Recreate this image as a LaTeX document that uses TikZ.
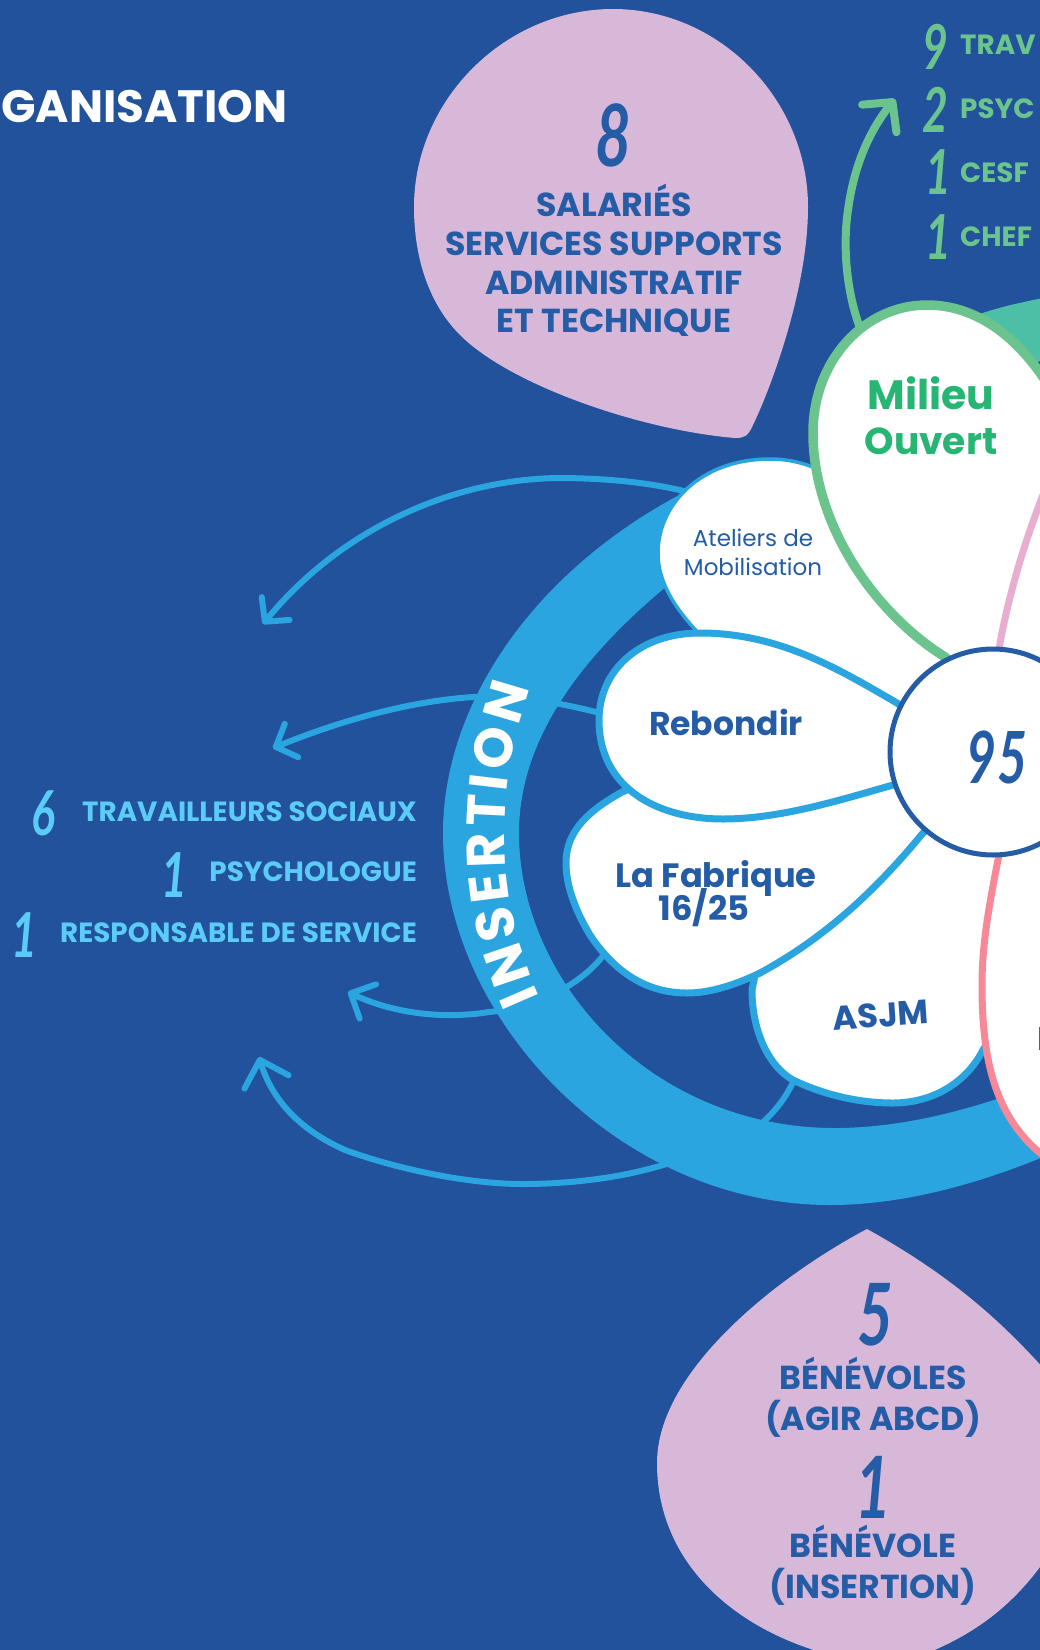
\documentclass[tikz,border=0pt]{standalone}
\usepackage{fontspec}
\usetikzlibrary{arrows.meta,decorations.text}
\newfontfamily\popfont{Poppins}
\newfontfamily\handfont{Lato}
\definecolor{bgblue}{HTML}{21529B}
\definecolor{ringblue}{HTML}{2AA5DF}
\definecolor{inkblue}{HTML}{255CA6}
\definecolor{mauve}{HTML}{D8B8D8}
\definecolor{skytext}{HTML}{5BCBF7}
\definecolor{leaf}{HTML}{6BC48E}
\definecolor{leaftext}{HTML}{27B573}
\definecolor{teal}{HTML}{4DBFA6}
\definecolor{rosepink}{HTML}{E9AECF}
\definecolor{coral}{HTML}{F78898}
\definecolor{darkred}{HTML}{B23A48}
\newcommand{\hdigit}[2][86]{{\handfont\bfseries\itshape\fontsize{#1}{#1}\selectfont\scalebox{0.72}[1]{#2}}}
\tikzset{
  lbl/.style={anchor=base,inner sep=0pt,font=\popfont\bfseries\fontsize{27.8}{30}\selectfont},
  bubbletext/.style={lbl,text=inkblue,font=\popfont\bfseries\fontsize{33.2}{34}\selectfont},
  petalname/.style={anchor=base,inner sep=0pt,text=inkblue,font=\popfont\bfseries\fontsize{33.7}{36}\selectfont},
  digit/.style={inner sep=0pt,anchor=center},
  conn/.style={draw=ringblue,line width=6pt,line cap=round},
  petal/.style={fill=white,draw=ringblue,line width=7pt,line join=round}
}
\begin{document}
\begin{tikzpicture}[x=1pt,y=-1pt]
\useasboundingbox (0,0) rectangle (1040,1650);
\clip (0,0) rectangle (1040,1650);
\fill[bgblue] (0,0) rectangle (1040,1650);

% free ends of the connectors
\coordinate (a1s) at (688,492); \coordinate (a1e) at (263,624);
\coordinate (a2s) at (600,713); \coordinate (a2e) at (273,748);
\coordinate (a3s) at (602,957); \coordinate (a3e) at (348,992);
\coordinate (a4s) at (794,1080); \coordinate (a4e) at (259,1057);
\coordinate (gs) at (859,325); \coordinate (ge) at (895,99);

% connectors (under the ring)
\draw[conn,-{Straight Barb[round,length=17pt,width=36pt]}] (a1s) .. controls (640,480) and (590,478) .. (557,478) .. controls (450,480) and (340,530) .. (a1e);
\draw[conn,-{Straight Barb[round,length=17pt,width=36pt]}] (a2s) .. controls (560,703) and (520,695) .. (473,697) .. controls (400,702) and (330,725) .. (a2e);
\draw[conn,-{Straight Barb[round,length=19pt,width=38pt]}] (a3s) .. controls (580,985) and (535,1008) .. (489,1012) .. controls (440,1020) and (390,1012) .. (a3e);
\draw[conn,-{Straight Barb[round,length=23pt,width=46pt]}] (a4s) .. controls (785,1100) and (770,1120) .. (740,1140) .. controls (720,1150) and (690,1157) .. (663,1165) .. controls (620,1178) and (570,1184) .. (522,1184) .. controls (470,1184) and (400,1170) .. (345,1150) .. controls (300,1130) and (272,1100) .. (a4e);
\draw[draw=leaf,line width=8pt,line cap=round,-{Straight Barb[round,length=21pt,width=44pt]}] (gs) .. controls (848,295) and (842,250) .. (848,210) .. controls (854,165) and (870,130) .. (ge);

% ring
\fill[ringblue] (705,482) .. controls (540,560) and (443,700) .. (443,833) .. controls (443,1020) and (620,1205) .. (830,1205) .. controls (910,1205) and (990,1180) .. (1060,1150)
 -- (1060,1075) .. controls (990,1105) and (910,1128) .. (835,1128) .. controls (650,1128) and (519,980) .. (519,833) .. controls (519,740) and (580,650) .. (700,560) -- cycle;

% text on the ring
\path[decorate,decoration={text along path,text align=fit to path,text color=white,
  text={|\popfont\bfseries\fontsize{54}{54}\selectfont|INSERTION}}]
  (540,997) .. controls (495,900) and (495,790) .. (530,688);

% teal shape behind the green petal
\fill[teal] (960,322) .. controls (985,310) and (1020,302) .. (1060,295) -- (1060,356) -- (1030,364) -- (990,380) -- cycle;

% mauve bubbles
\fill[mauve] (613,9) .. controls (720,9) and (808,100) .. (808,207) .. controls (808,290) and (770,390) .. (753,425) .. controls (748,436) and (745,438) .. (735,438) .. controls (640,430) and (510,385) .. (460,335) .. controls (430,305) and (414,260) .. (414,207) .. controls (414,100) and (505,9) .. (613,9) -- cycle;
\fill[mauve] (867,1229) .. controls (950,1275) and (1000,1320) .. (1045,1370) -- (1045,1560) .. controls (1010,1610) and (970,1635) .. (930,1652) -- (820,1652) .. controls (730,1625) and (657,1560) .. (657,1463) .. controls (657,1370) and (780,1275) .. (867,1229) -- cycle;

% petals
\draw[petal,line width=3.5pt] (880,520) .. controls (840,470) and (800,459) .. (770,459) .. controls (700,459) and (658,505) .. (658,553) .. controls (658,590) and (685,620) .. (710,645) -- (1000,750) -- (1000,640) -- cycle;
\draw[petal] (1012,1000) -- (983,1050) .. controls (965,1085) and (930,1103) .. (893,1103) .. controls (855,1103) and (820,1093) .. (793,1080) .. controls (768,1066) and (752,1030) .. (752,990) -- (760,950) -- (760,880) -- (900,780) -- (1000,800) -- cycle;
\draw[petal] (950,810) -- (923,833) .. controls (880,885) and (830,935) .. (760,973) .. controls (735,985) and (710,993) .. (687,993) .. controls (640,993) and (610,965) .. (590,935) .. controls (575,910) and (566,885) .. (566,863) .. controls (566,830) and (590,810) .. (622,792) -- (700,760) -- (900,760) -- cycle;
\draw[petal] (940,735) -- (897,703) .. controls (840,670) and (780,633) .. (700,633) .. controls (640,633) and (599,670) .. (599,720) .. controls (599,790) and (660,819) .. (723,819) .. controls (780,819) and (840,800) .. (893,785) -- (940,775) -- cycle;
\draw[petal,draw=leaf,line width=9.5pt] (990,700) -- (945,657) .. controls (870,610) and (813,520) .. (813,433) .. controls (813,360) and (865,305) .. (927,305) .. controls (975,305) and (1015,335) .. (1045,380) -- (1065,420) -- (1065,720) -- cycle;
\draw[petal,draw=rosepink] (995,690) -- (1000,643) .. controls (1010,590) and (1025,540) .. (1045,490) -- (1065,460) -- (1065,760) -- cycle;
\draw[petal,draw=coral] (1005,820) -- (998,860) .. controls (987,915) and (982,950) .. (982,985) .. controls (982,1060) and (995,1115) .. (1040,1153) -- (1075,1178) -- (1075,820) -- cycle;
\fill[darkred] (1039,1027) rectangle (1041,1050);

% centre
\node[circle,draw=inkblue,fill=white,line width=5pt,minimum size=206pt,inner sep=0pt] (hub) at (993,752) {};
\node[digit,text=inkblue] (n95) at (997,757) {\hdigit[72]{95}};

% title
\node[anchor=base west,inner sep=0pt,text=white,font=\popfont\bfseries\fontsize{45.3}{48}\selectfont] (title) at (1,122) {GANISATION};

% top bubble text
\node[digit,text=inkblue] (n8) at (613,135) {\hdigit{8}};
\node[bubbletext] (t1) at (614,216.5) {SALARIÉS};
\node[bubbletext] (t2) at (614,255.5) {SERVICES SUPPORTS};
\node[bubbletext] (t3) at (614,294.5) {ADMINISTRATIF};
\node[bubbletext] (t4) at (614,332.5) {ET TECHNIQUE};

% bottom bubble text
\node[digit,text=inkblue] (n5) at (875,1315) {\hdigit{5}};
\node[bubbletext] (b1) at (873,1389.5) {BÉNÉVOLES};
\node[bubbletext] (b2) at (873,1430.5) {(AGIR ABCD)};
\node[digit,text=inkblue] (n1b) at (873,1487) {\hdigit{1}};
\node[bubbletext] (b3) at (873,1557.5) {BÉNÉVOLE};
\node[bubbletext] (b4) at (873,1598.5) {(INSERTION)};

% green list
\node[digit,text=leaf] (g9) at (935,47) {\hdigit[62]{9}};
\node[digit,text=leaf] (g2) at (935,110) {\hdigit[62]{2}};
\node[digit,text=leaf] (g1a) at (938,172) {\hdigit[62]{1}};
\node[digit,text=leaf] (g1b) at (938,237) {\hdigit[62]{1}};
\node[lbl,anchor=base west,text=leaf] (gt1) at (960,54) {TRAV};
\node[lbl,anchor=base west,text=leaf] (gt2) at (960,118) {PSYC};
\node[lbl,anchor=base west,text=leaf] (gt3) at (960,182) {CESF};
\node[lbl,anchor=base west,text=leaf] (gt4) at (960,246) {CHEF};

% blue list
\node[digit,text=skytext] (s6) at (43,813) {\hdigit[62]{6}};
\node[digit,text=skytext] (s1a) at (174,875) {\hdigit[62]{1}};
\node[digit,text=skytext] (s1b) at (24,935) {\hdigit[62]{1}};
\node[lbl,anchor=base east,text=skytext] (st1) at (417,821) {TRAVAILLEURS SOCIAUX};
\node[lbl,anchor=base east,text=skytext] (st2) at (417,881) {PSYCHOLOGUE};
\node[lbl,anchor=base east,text=skytext] (st3) at (417,942) {RESPONSABLE DE SERVICE};

% petal names
\node[petalname,text=leaftext,font=\popfont\bfseries\fontsize{41}{42}\selectfont] (m1) at (931,409) {Milieu};
\node[petalname,text=leaftext,font=\popfont\bfseries\fontsize{37.5}{42}\selectfont] (m2) at (931,454.5) {Ouvert};
\node[anchor=base,inner sep=0pt,text=inkblue,font=\popfont\fontsize{23}{26}\selectfont] (at1) at (753,546) {Ateliers de};
\node[anchor=base,inner sep=0pt,text=inkblue,font=\popfont\fontsize{23}{26}\selectfont] (at2) at (753,575) {Mobilisation};
\node[petalname,font=\popfont\bfseries\fontsize{33}{36}\selectfont] (reb) at (726,735) {Rebondir};
\node[petalname] (fa1) at (716,887) {La Fabrique};
\node[petalname] (fa2) at (704,920) {16/25};
\node[petalname,anchor=center,rotate=4] (asjm) at (881,1015) {ASJM};
\end{tikzpicture}
\end{document}
